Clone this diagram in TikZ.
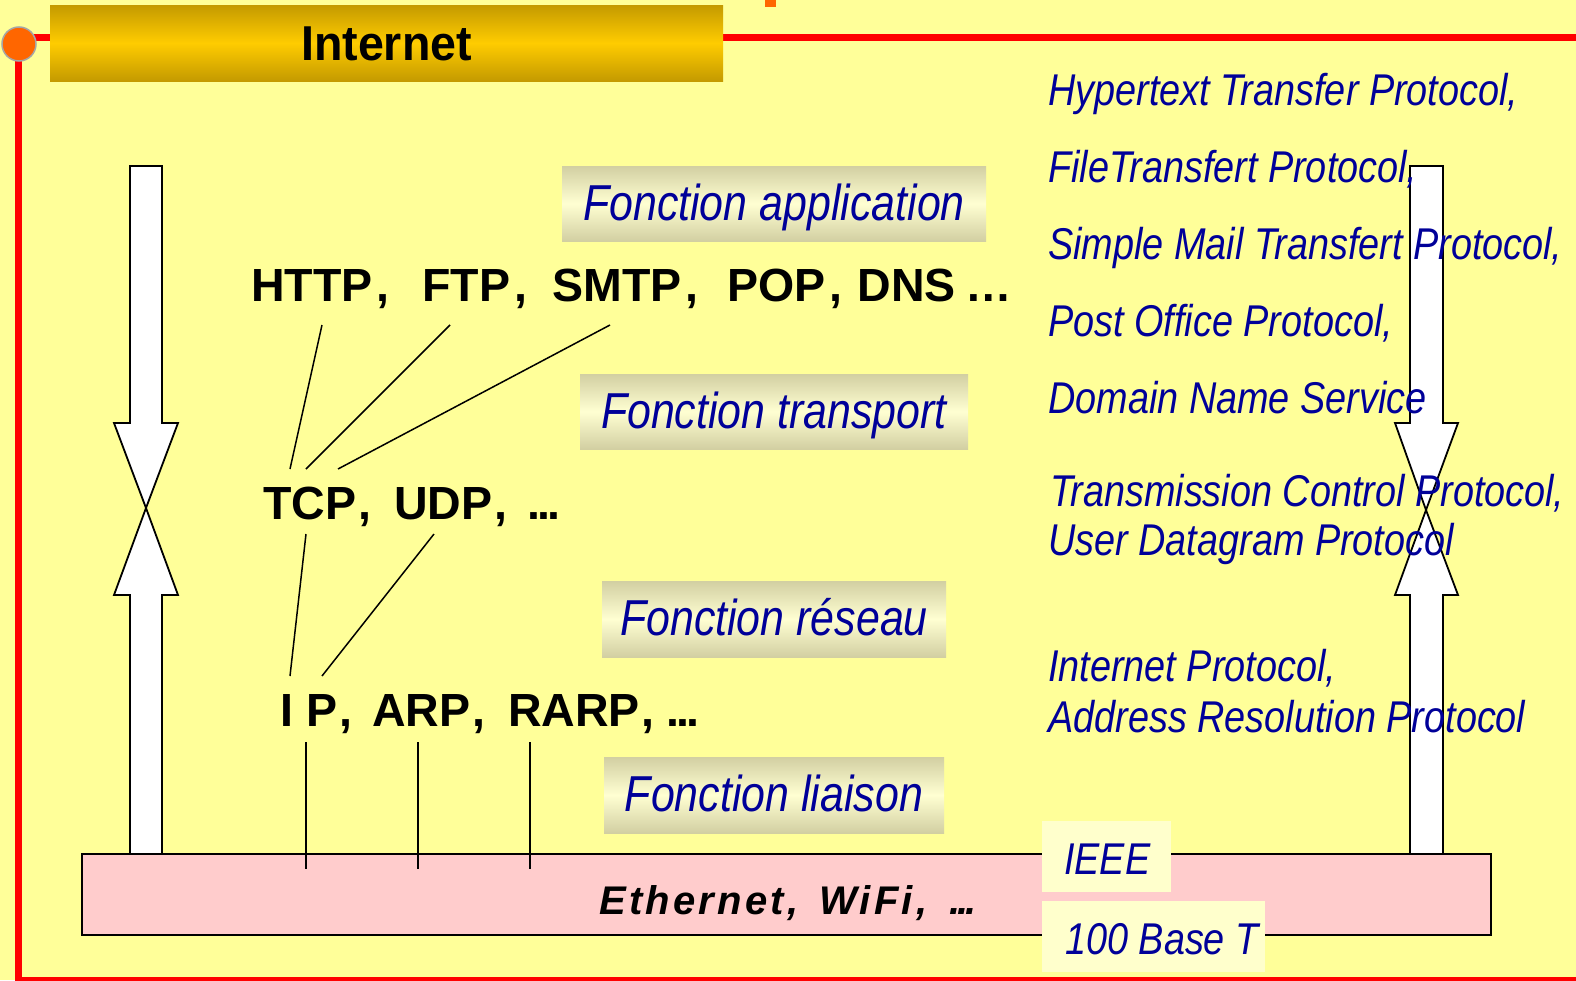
\documentclass[tikz,border=0pt]{standalone}
\usepackage{fontspec}
\setmainfont{Liberation Sans}
\newfontfamily\narrowfont[FakeStretch=0.85]{Liberation Sans}
\newfontfamily\headfont[FakeStretch=0.95]{Liberation Sans}
\newfontfamily\ethfont[LetterSpace=8]{Liberation Sans}
\definecolor{bgyellow}{HTML}{FFFF99}
\definecolor{redc}{HTML}{FF0000}
\definecolor{orangec}{HTML}{FF6600}
\definecolor{golddark}{HTML}{C49A00}
\definecolor{goldlight}{HTML}{FFCC00}
\definecolor{lbledge}{HTML}{D2CFA2}
\definecolor{lblmid}{HTML}{FFFFD2}
\definecolor{textblue}{HTML}{000099}
\definecolor{pinkc}{HTML}{FFCCCC}
\definecolor{paleyellow}{HTML}{FFFFCC}
\begin{document}
\begin{tikzpicture}[x=1pt,y=-1pt,
  redline/.style={draw=redc, line width=7.5pt},
  arrowshape/.style={fill=white, draw=black, line width=1.8pt, line join=miter},
  conn/.style={draw=black, line width=1.5pt},
  lbl/.style={inner sep=0pt, minimum height=75pt, top color=lbledge, bottom color=lbledge, middle color=lblmid,
     font=\narrowfont\itshape\fontsize{50.5}{60}\selectfont, text=textblue, text height=33pt, text depth=0pt},
  proto/.style={anchor=base west, inner sep=0pt, font=\bfseries\fontsize{46.5}{56}\selectfont},
  rtxt/.style={anchor=base west, inner sep=0pt, font=\narrowfont\itshape\fontsize{44.5}{52}\selectfont, text=textblue},
  pbox/.style={fill=paleyellow, inner sep=0pt, draw=none}
]
\useasboundingbox (0,0) rectangle (1576,980);
\fill[bgyellow] (0,0) rectangle (1576,980);

% red frame
\draw[redline] (18.5,44) -- (18.5,981) -- (1580,981);
\draw[redline] (18.5,37.5) -- (1580,37.5);
\node[circle, fill=orangec, draw=gray!70, line width=1.5pt, minimum size=34pt, inner sep=0pt] (dot) at (19,44) {};

% header
\node[inner sep=0pt, minimum width=673pt, minimum height=76pt, top color=golddark, bottom color=golddark, middle color=goldlight,
      font=\headfont\bfseries\fontsize{49}{58}\selectfont, text height=35pt, text depth=0pt] (head) at (386.5,43) {Internet};
\fill[orangec] (765,0) rectangle (776,7);

% left double arrow
\draw[arrowshape] (130,166) -- (162,166) -- (162,423) -- (178,423) -- (146,508) -- (114,423) -- (130,423) -- cycle;
\draw[arrowshape] (130,854) -- (130,595) -- (114,595) -- (146,508) -- (178,595) -- (162,595) -- (162,854) -- cycle;
% right double arrow
\draw[arrowshape] (1410,166) -- (1443,166) -- (1443,423) -- (1458,423) -- (1426,510) -- (1395,423) -- (1410,423) -- cycle;
\draw[arrowshape] (1410,854) -- (1410,595) -- (1395,595) -- (1426,510) -- (1458,595) -- (1443,595) -- (1443,854) -- cycle;

% pink physical layer box
\node[draw=black, line width=1.8pt, fill=pinkc, minimum width=1409pt, minimum height=81pt, inner sep=0pt] (eth) at (786.5,894.5) {};

% protocol texts
\node[proto] (http) at (251,301) {HTTP\hspace{4pt},\hspace{33pt}FTP\hspace{4pt},\hspace{25pt}SMTP\hspace{4pt},\hspace{29pt}POP\hspace{4pt},\hspace{15pt}DNS\hspace{10pt}…};
\node[proto] (tcp) at (263,519) {TCP\hspace{2pt},\hspace{23pt}UDP\hspace{2pt},\hspace{20pt}.\kern-3pt.\kern-3pt.};
\node[proto] (ip) at (280,726) {I\hspace{13pt}P\hspace{2pt},\hspace{20pt}ARP\hspace{2pt},\hspace{23pt}RARP\hspace{2pt},\hspace{12pt}.\kern-3pt.\kern-3pt.};
\node[anchor=base west, inner sep=0pt, font=\ethfont\bfseries\itshape\fontsize{40}{48}\selectfont] (ethtxt) at (599,914) {Ethernet,\hspace{21pt}WiFi,\hspace{22pt}.\kern-3pt.\kern-3pt.};

% connectors
\coordinate (httpA) at (322,325); \coordinate (ftpA) at (450,325); \coordinate (smtpA) at (610,325);
\coordinate (tcpA) at (290,469); \coordinate (tcpB) at (306,469); \coordinate (tcpC) at (338,469);
\coordinate (tcpD) at (306,534); \coordinate (udpA) at (434,534);
\coordinate (ipA) at (290,676); \coordinate (ipB) at (322,676);
\coordinate (ipC) at (306,742); \coordinate (arpA) at (418,742); \coordinate (rarpA) at (530,742);
\coordinate (e1) at (306,869); \coordinate (e2) at (418,869); \coordinate (e3) at (530,869);
\draw[conn] (httpA) -- (tcpA);
\draw[conn] (ftpA) -- (tcpB);
\draw[conn] (smtpA) -- (tcpC);
\draw[conn] (tcpD) -- (ipA);
\draw[conn] (udpA) -- (ipB);
\draw[conn] (ipC) -- (e1);
\draw[conn] (arpA) -- (e2);
\draw[conn] (rarpA) -- (e3);

% function labels
\node[lbl, minimum width=424pt] (fapp) at (774,203.5) {Fonction application};
\node[lbl, minimum width=388pt] (ftra) at (774,411.5) {Fonction transport};
\node[lbl, minimum width=344pt, minimum height=76pt] (fres) at (774,619) {Fonction réseau};
\node[lbl, minimum width=340pt, minimum height=76pt] (flia) at (774,795) {Fonction liaison};

% IEEE boxes
\node[pbox, minimum width=129pt, minimum height=71pt] (ieeebox) at (1106.5,856.5) {};
\node[pbox, minimum width=223pt, minimum height=71pt] (basebox) at (1153.5,936.5) {};
\node[rtxt] (ieee) at (1064,874) {IEEE};
\node[rtxt] (base) at (1065,954) {100 Base T};

% right descriptions
\node[rtxt] (d1) at (1048,105) {Hypertext Transfer Protocol,};
\node[rtxt] (d2) at (1048,182) {FileTransfert Protocol,};
\node[rtxt] (d3) at (1048,259) {Simple Mail Transfert Protocol,};
\node[rtxt] (d4) at (1048,336) {Post Office Protocol,};
\node[rtxt] (d5) at (1048,413) {Domain Name Service};
\node[rtxt] (d6) at (1050,506) {Transmission Control Protocol,};
\node[rtxt] (d7) at (1048,555) {User Datagram Protocol};
\node[rtxt] (d8) at (1048,681) {Internet Protocol,};
\node[rtxt] (d9) at (1048,732) {Address Resolution Protocol};
\end{tikzpicture}
\end{document}
